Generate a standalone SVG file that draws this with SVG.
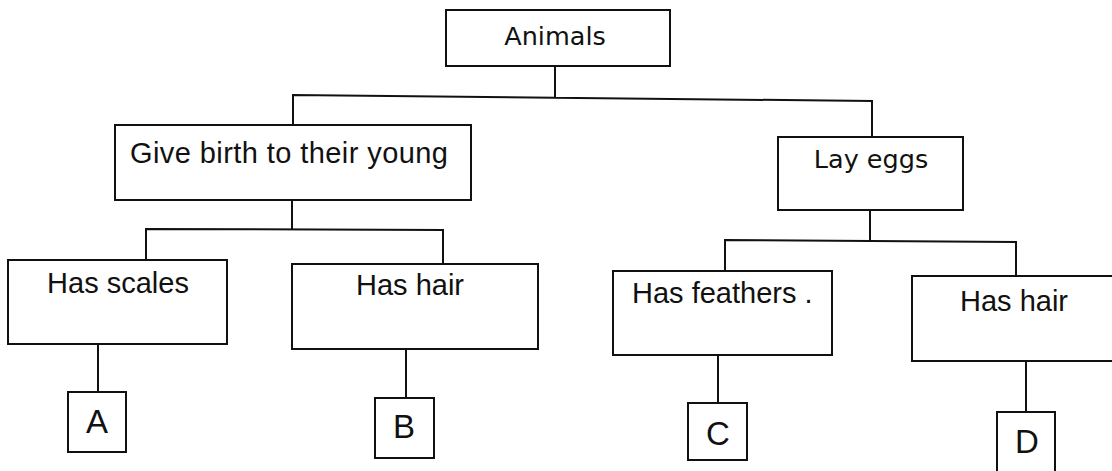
<svg xmlns="http://www.w3.org/2000/svg" width="1112" height="471" viewBox="0 0 1112 471">
<style>
.box{fill:#fff;stroke:#111;stroke-width:2}
.ln{fill:none;stroke:#111;stroke-width:2}
.t{font-family:"Liberation Sans",Arial,sans-serif;font-size:29px;fill:#111}
.d{font-family:"DejaVu Sans",Verdana,sans-serif;font-size:25.5px;fill:#111}
.L{font-family:"Liberation Sans",Arial,sans-serif;font-size:33px;fill:#111;text-anchor:middle}
</style>
<rect width="1112" height="471" fill="#fff"/>
<g id="connectors">
<path class="ln" d="M555,66 V97 M293,125 V95 L872,101 V137"/>
<path class="ln" d="M292,200 V229 M146,260 V229 L443,230 V264"/>
<path class="ln" d="M870,210 V240 M725,271 V240 L1016,242 V276"/>
<path class="ln" d="M98,344 V392 M406,349 V398 M718,355 V403 M1026,361 V412"/>
</g>
<g id="animals"><rect class="box" x="446" y="10" width="224" height="56"/><text class="d" x="555" y="45" text-anchor="middle">Animals</text></g>
<g id="give-birth"><rect class="box" x="115" y="125" width="356" height="75"/><text class="t" x="130" y="163" textLength="318">Give birth to their young</text></g>
<g id="lay-eggs"><rect class="box" x="778" y="137" width="185" height="73"/><text class="d" x="871" y="168" text-anchor="middle">Lay eggs</text></g>
<g id="has-scales"><rect class="box" x="8" y="260" width="219" height="84"/><text class="t" x="118" y="293" text-anchor="middle">Has scales</text></g>
<g id="has-hair-1"><rect class="box" x="292" y="264" width="246" height="85"/><text class="t" x="410" y="295" text-anchor="middle">Has hair</text></g>
<g id="has-feathers"><rect class="box" x="613" y="271" width="219" height="84"/><text class="t" x="632" y="303">Has feathers .</text></g>
<g id="has-hair-2"><rect class="box" x="912" y="276" width="210" height="85"/><text class="t" x="1014" y="311" text-anchor="middle">Has hair</text></g>
<g id="A"><rect class="box" x="68" y="392" width="58" height="60"/><text class="L" x="97" y="433">A</text></g>
<g id="B"><rect class="box" x="375" y="398" width="59" height="60"/><text class="L" x="404" y="438">B</text></g>
<g id="C"><rect class="box" x="688" y="403" width="59" height="57"/><text class="L" x="718" y="445">C</text></g>
<g id="D"><rect class="box" x="997" y="412" width="58" height="65"/><text class="L" x="1027" y="453">D</text></g>
</svg>
